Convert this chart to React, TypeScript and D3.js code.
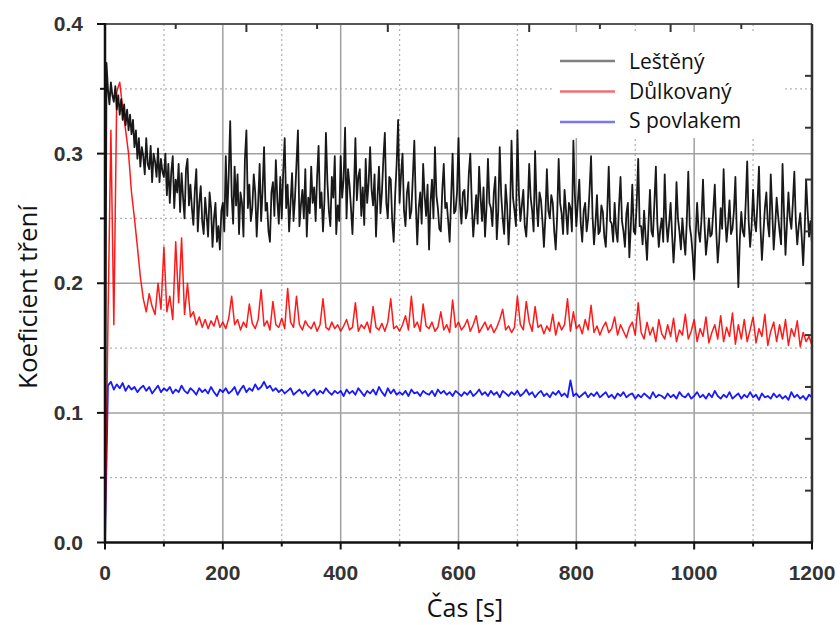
import React from "react";
import * as d3 from "d3";

// sampling steps in seconds
const LESTENY_STEP = 2.5;
const TIME_STEP = 5;
const X_MAX = 1200;
const Y_MAX = 0.4;
const xTicks = [0, 200, 400, 600, 800, 1000, 1200];
const xMinorTicks = [100, 300, 500, 700, 900, 1100];
const yTicks = [0.0, 0.1, 0.2, 0.3, 0.4];
const yMinorTicks = [0.05, 0.15, 0.25, 0.35];
const topTicks = [120, 240, 360, 480, 600, 720, 840, 960, 1080];
const rightTicks = [0.04, 0.08, 0.12, 0.16, 0.2, 0.24, 0.28, 0.32, 0.36];
const seriesNames = ["Leštěný", "Důlkovaný", "S povlakem"];
const xTitle = "Čas [s]";
const yTitle = "Koeficient tření";

// friction coefficient values in thousandths (Leštěný: one per 2.5 s)
const lestenyMilli = [
  0, 370, 350, 338, 355, 345, 340, 352, 334, 345, 330, 342, 326, 338, 322, 334, 318, 330, 315, 326,
  305, 318, 296, 312, 290, 305, 298, 284, 312, 292, 288, 306, 278, 300, 294, 282, 304, 278, 296, 286,
  282, 300, 268, 292, 262, 286, 298, 258, 280, 270, 292, 255, 285, 266, 250, 288, 296, 260, 276, 258,
  245, 272, 288, 240, 262, 275, 248, 238, 266, 252, 236, 270, 258, 228, 250, 262, 232, 244, 226, 256,
  262, 240, 298, 252, 284, 325, 268, 246, 290, 260, 284, 238, 270, 262, 236, 296, 318, 258, 276, 248,
  258, 284, 270, 236, 262, 292, 248, 272, 305, 256, 262, 240, 232, 270, 278, 252, 295, 264, 246, 282,
  250, 286, 312, 258, 276, 240, 262, 285, 248, 266, 292, 318, 244, 260, 272, 250, 288, 236, 266, 254,
  290, 262, 274, 248, 282, 306, 258, 270, 240, 264, 316, 278, 256, 244, 282, 266, 298, 238, 260, 248,
  298, 266, 280, 320, 250, 288, 276, 258, 238, 270, 312, 264, 282, 288, 252, 274, 245, 296, 262, 278,
  305, 272, 260, 284, 236, 266, 290, 254, 270, 296, 316, 262, 250, 282, 280, 248, 232, 268, 292, 326,
  262, 284, 300, 256, 244, 270, 278, 250, 256, 282, 310, 262, 230, 258, 270, 246, 292, 268, 252, 276,
  226, 262, 280, 250, 305, 268, 258, 242, 240, 272, 292, 258, 262, 248, 232, 266, 300, 254, 256, 270,
  312, 262, 246, 270, 272, 250, 256, 284, 300, 262, 236, 252, 268, 246, 290, 266, 248, 274, 236, 258,
  296, 262, 258, 244, 270, 282, 234, 256, 305, 268, 250, 238, 276, 260, 230, 254, 310, 266, 256, 244,
  318, 270, 248, 260, 272, 244, 236, 258, 292, 266, 256, 240, 302, 262, 244, 270, 264, 248, 228, 252,
  288, 256, 250, 268, 262, 240, 226, 252, 296, 262, 254, 238, 272, 256, 238, 262, 258, 240, 310, 268,
  244, 262, 280, 246, 232, 256, 262, 240, 250, 272, 298, 252, 230, 246, 268, 238, 240, 260, 255, 236,
  228, 256, 290, 248, 246, 232, 262, 240, 232, 260, 282, 248, 240, 228, 254, 262, 220, 244, 276, 240,
  238, 262, 296, 244, 244, 230, 256, 236, 218, 246, 272, 240, 236, 262, 290, 246, 228, 242, 250, 232,
  284, 248, 232, 246, 262, 238, 216, 236, 278, 250, 240, 226, 250, 234, 222, 248, 286, 244, 236, 222,
  203, 236, 262, 240, 232, 250, 280, 246, 222, 234, 250, 236, 238, 256, 276, 240, 216, 232, 258, 242,
  288, 252, 232, 246, 264, 238, 242, 256, 282, 236, 197, 234, 255, 240, 236, 262, 294, 248, 228, 244,
  272, 248, 240, 262, 290, 244, 218, 238, 258, 270, 246, 236, 284, 256, 226, 244, 266, 252, 240, 230,
  292, 254, 222, 246, 270, 250, 242, 262, 286, 248, 230, 244, 254, 236, 214, 240, 280, 256, 236, 248,
  230,
];

// Důlkovaný and S povlakem: one value per 5 s
const dulkovanyMilli = [
  0,
  170, 318, 168, 348, 355, 335, 318, 300, 270,
  250, 228, 205, 188, 178, 192, 182, 176, 200, 180,
  228, 178, 190, 172, 232, 185, 235, 176, 200, 174,
  178, 168, 174, 166, 172, 165, 171, 167, 175, 166,
  170, 165, 173, 190, 168, 172, 164, 170, 166, 184,
  169, 165, 172, 195, 167, 171, 164, 186, 168, 166,
  173, 165, 196, 170, 166, 190, 168, 164, 171, 167,
  165, 170, 163, 168, 188, 166, 164, 170, 165, 168,
  163, 167, 172, 164, 166, 185, 163, 168, 165, 170,
  162, 182, 166, 164, 169, 163, 170, 188, 165, 167,
  163, 168, 175, 164, 190, 166, 170, 163, 184, 167,
  165, 170, 163, 166, 178, 164, 168, 162, 187, 166,
  170, 164, 167, 172, 163, 168, 175, 162, 166, 170,
  164, 168, 162, 166, 172, 180, 164, 167, 162, 166,
  190, 168, 164, 186, 170, 163, 182, 166, 168, 161,
  167, 163, 176, 160, 170, 164, 168, 188, 163, 178,
  165, 168, 161, 172, 164, 183, 162, 167, 160, 166,
  170, 162, 165, 174, 160, 168, 163, 158, 166, 170,
  160, 185, 162, 157, 170, 160, 166, 155, 172, 161,
  157, 168, 159, 173, 155, 164, 160, 176, 157, 163,
  172, 155, 165, 159, 174, 154, 162, 168, 157, 175,
  155, 166, 159, 177, 153, 168, 157, 172, 155, 164,
  174, 154, 165, 159, 176, 152, 163, 170, 155, 168,
  157, 172, 152, 165, 159, 171, 151, 162, 155, 159,
  152,
];

const povlakemMilli = [
  0,
  121, 124, 118, 122, 119, 123, 117, 121, 118,
  120, 116, 119, 121, 117, 120, 115, 118, 121, 116,
  119, 117, 120, 115, 118, 116, 121, 117, 115, 119,
  117, 114, 119, 116, 118, 115, 120, 116, 113, 118,
  116, 119, 115, 117, 120, 114, 118, 121, 116, 119,
  117, 122, 118, 120, 124, 119, 121, 117, 119, 116,
  118, 115, 117, 119, 114, 116, 118, 115, 117, 113,
  116, 118, 114, 117, 115, 119, 116, 114, 117, 115,
  117, 113, 118, 115, 117, 114, 119, 116, 113, 117,
  115, 118, 114, 120, 116, 113, 119, 115, 118, 114,
  116, 114, 117, 113, 118, 115, 116, 113, 117, 115,
  114, 117, 113, 118, 115, 117, 114, 116, 113, 117,
  115, 113, 116, 114, 117, 113, 115, 118, 114, 116,
  113, 117, 114, 116, 112, 117, 115, 113, 116, 114,
  117, 113, 115, 118, 114, 116, 112, 115, 117, 113,
  115, 112, 116, 114, 117, 113, 115, 112, 125, 113,
  115, 112, 114, 116, 112, 115, 113, 116, 112, 114,
  116, 112, 114, 111, 115, 113, 116, 112, 114, 115,
  111, 114, 112, 115, 113, 111, 116, 112, 114, 113,
  111, 115, 112, 114, 111, 116, 113, 112, 115, 111,
  113, 116, 112, 114, 111, 115, 112, 117, 113, 111,
  114, 112, 116, 111, 113, 115, 111, 114, 112, 116,
  112, 114, 110, 115, 112, 113, 111, 115, 112, 114,
  111, 113, 110, 116, 112, 114, 111, 113, 110, 114,
  112,
];

const seriesColors = ["#000000", "#ff0000", "#0000ff"];
const seriesWidths = [1.8, 1.5, 1.8];
const seriesOpacity = [0.9, 0.9, 0.9];
const legendColors = ["#808080", "#f07070", "#7878f0"];

export default function App() {
  const W = 840;
  const H = 625;
  const L = 105, R = 812, T = 24, B = 542.5;
  const x = d3.scaleLinear().domain([0, X_MAX]).range([L, R]);
  const y = d3.scaleLinear().domain([0, Y_MAX]).range([B, T]);
  const toPts = (arr: number[], step: number) =>
    arr.map((v, i) => [i * step, v / 1000] as [number, number]);
  const line = d3
    .line<[number, number]>()
    .x((d) => x(d[0]))
    .y((d) => y(d[1]));
  const fmtY = d3.format(".1f");
  const data = [
    toPts(lestenyMilli, LESTENY_STEP),
    toPts(dulkovanyMilli, TIME_STEP),
    toPts(povlakemMilli, TIME_STEP),
  ];
  const drawOrder = [2, 1, 0];
  const tickFont = "'Liberation Sans', Arial, sans-serif";
  const titleFont = "'Open Sans', 'Noto Sans', sans-serif";

  return (
    <svg
      width={W}
      height={H}
      viewBox={`0 0 ${W} ${H}`}
      style={{ position: "absolute", left: 0, top: 0, background: "#fff" }}
    >
      <defs>
        <clipPath id="plotClip">
          <rect x={L} y={T} width={R - L} height={B - T} />
        </clipPath>
      </defs>
      <rect x={0} y={0} width={W} height={H} fill="#fff" />

      {/* grid */}
      <g>
        {xMinorTicks.map((t) => (
          <line key={"gxm" + t} x1={x(t)} x2={x(t)} y1={T} y2={B} stroke="#b4b4b4" strokeWidth={1.3} strokeDasharray="2,3" />
        ))}
        {yMinorTicks.map((t) => (
          <line key={"gym" + t} x1={L} x2={R} y1={y(t)} y2={y(t)} stroke="#b4b4b4" strokeWidth={1.3} strokeDasharray="2,3" />
        ))}
        {xTicks.slice(1, -1).map((t) => (
          <line key={"gx" + t} x1={x(t)} x2={x(t)} y1={T} y2={B} stroke="#a0a0a0" strokeWidth={1.5} />
        ))}
        {yTicks.slice(1, -1).map((t) => (
          <line key={"gy" + t} x1={L} x2={R} y1={y(t)} y2={y(t)} stroke="#a0a0a0" strokeWidth={1.5} />
        ))}
      </g>

      {/* legend background */}
      <rect x={553} y={32} width={230} height={106} fill="#fff" />

      {/* series */}
      <g clipPath="url(#plotClip)">
        {drawOrder.map((i) => (
          <path
            key={"s" + i}
            d={line(data[i]) || ""}
            fill="none"
            stroke={seriesColors[i]}
            strokeWidth={seriesWidths[i]}
            strokeOpacity={seriesOpacity[i]}
            strokeLinejoin="round"
          />
        ))}
      </g>

      {/* frame */}
      <line x1={L} x2={R} y1={T} y2={T} stroke="#555" strokeWidth={2} />
      <line x1={R} x2={R} y1={T} y2={B} stroke="#333" strokeWidth={2.5} />
      <line x1={L} x2={L} y1={T - 1} y2={B + 1} stroke="#111" strokeWidth={2.5} />
      <line x1={L - 1} x2={R + 1} y1={B} y2={B} stroke="#111" strokeWidth={2.5} />

      {/* top ticks (inward) */}
      {topTicks.map((t) => (
        <line key={"tt" + t} x1={x(t)} x2={x(t)} y1={T} y2={T + (t % 240 === 0 ? 8 : 5)} stroke="#333" strokeWidth={2} />
      ))}
      {/* right ticks (inward) */}
      {rightTicks.map((t) => (
        <line key={"rt" + t} x1={R} x2={R - 7} y1={y(t)} y2={y(t)} stroke="#333" strokeWidth={2} />
      ))}
      {/* bottom ticks */}
      {xTicks.map((t) => (
        <line key={"bt" + t} x1={x(t)} x2={x(t)} y1={B} y2={B + 7} stroke="#111" strokeWidth={2} />
      ))}
      {xMinorTicks.map((t) => (
        <line key={"btm" + t} x1={x(t)} x2={x(t)} y1={B} y2={B + 4} stroke="#111" strokeWidth={2} />
      ))}
      {/* left ticks */}
      {yTicks.map((t) => (
        <line key={"lt" + t} x1={L} x2={L - 8} y1={y(t)} y2={y(t)} stroke="#111" strokeWidth={2} />
      ))}
      {yMinorTicks.map((t) => (
        <line key={"ltm" + t} x1={L} x2={L - 5} y1={y(t)} y2={y(t)} stroke="#111" strokeWidth={2} />
      ))}

      {/* tick labels */}
      {xTicks.map((t) => (
        <text
          key={"xl" + t}
          x={x(t)}
          y={580}
          textAnchor="middle"
          fontFamily={tickFont}
          fontWeight="bold"
          fontSize={21}
          fill="#333"
        >
          {t}
        </text>
      ))}
      {yTicks.map((t) => (
        <text
          key={"yl" + t}
          x={83}
          y={y(t) + 7}
          textAnchor="end"
          fontFamily={tickFont}
          fontWeight="bold"
          fontSize={21}
          fill="#333"
        >
          {fmtY(t)}
        </text>
      ))}

      {/* axis titles */}
      <text
        x={465}
        y={617}
        textAnchor="middle"
        fontFamily={titleFont}
        fontSize={25}
        fill="#111"
      >
        {xTitle}
      </text>
      <text
        transform={`translate(37, 297) rotate(-90)`}
        textAnchor="middle"
        fontFamily={titleFont}
        fontSize={26}
        fill="#111"
      >
        {yTitle}
      </text>

      {/* legend */}
      {seriesNames.map((name, i) => (
        <g key={"lg" + i}>
          <line x1={560} x2={615} y1={61 + i * 30.5} y2={61 + i * 30.5} stroke={legendColors[i]} strokeWidth={2.5} />
          <text
            x={629}
            y={69 + i * 29.5}
            fontFamily={titleFont}
            fontSize={21}
            fill="#111"
          >
            {name}
          </text>
        </g>
      ))}
    </svg>
  );
}
